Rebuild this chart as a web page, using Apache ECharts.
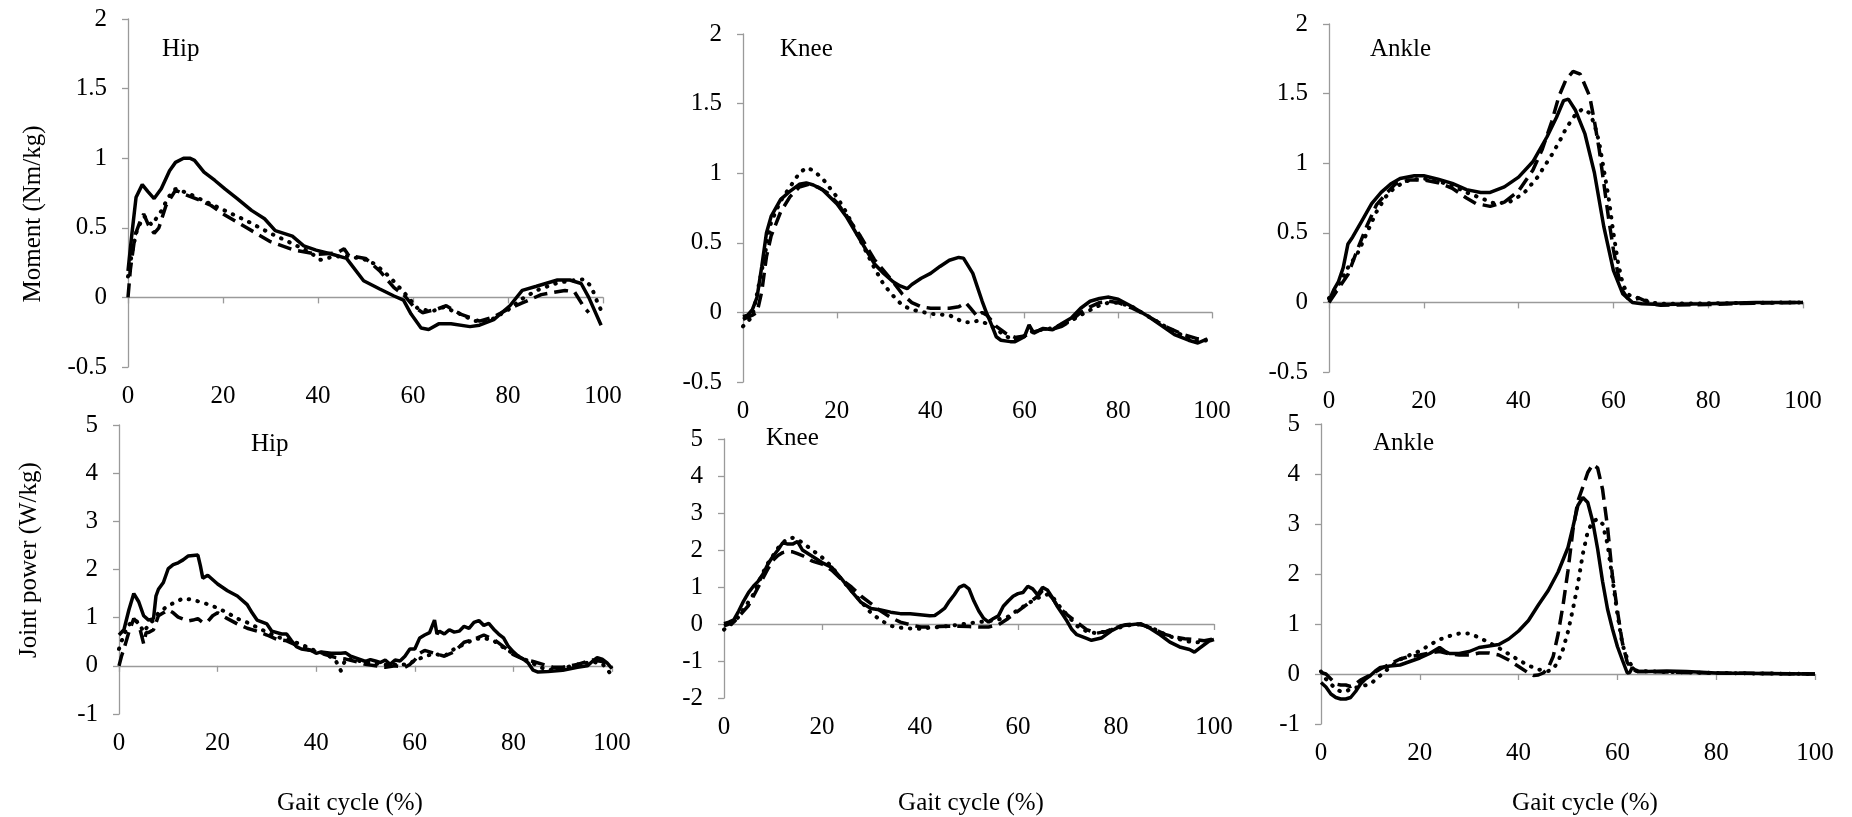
<!DOCTYPE html>
<html>
<head>
<meta charset="utf-8">
<script src="https://cdn.jsdelivr.net/npm/echarts@6/dist/echarts.min.js"></script>
<style>
  html, body { margin: 0; padding: 0; background: #fff; }
  #chart { width: 1852px; height: 817px; }
</style>
</head>
<body>
<div id="chart"></div>
<script>
// tick labels
const gaitTicks = [0, 20, 40, 60, 80, 100]
const momentTicks = [-0.5, 0, 0.5, 1, 1.5, 2]
const powerTicks = [-1, 0, 1, 2, 3, 4, 5]
const kneePowerTicks = [-2, -1, 0, 1, 2, 3, 4, 5]

// [gait cycle %, value] — solid / dashed / dotted curves
const hipMomSolid = [[0,0.19],[0.8,0.45],[1.7,0.72],[3,0.81],[4.2,0.76],[5.5,0.71],[7,0.78],[8.75,0.91],[10,0.97],[11.7,1.0],[13,1.0],[14,0.985],[16,0.9],[18.3,0.84],[20.4,0.78],[23,0.71],[26,0.625],[28.75,0.565],[31,0.48],[34.6,0.44],[37,0.37],[39.6,0.34],[43,0.31],[46,0.28],[49.6,0.12],[53,0.06],[56,0.01],[58,-0.02],[59.6,-0.12],[61.7,-0.22],[63.3,-0.23],[65.4,-0.19],[68,-0.19],[72,-0.21],[74,-0.2],[77,-0.16],[80.4,-0.06],[83,0.05],[86,0.08],[90.4,0.125],[93,0.125],[95.4,0.1],[97,0.0],[99.6,-0.2]]
const hipMomDash = [[0,0],[0.5,0.2],[1.5,0.45],[2.5,0.54],[3.3,0.6],[4.3,0.52],[5.5,0.46],[6.5,0.5],[8,0.66],[10,0.77],[12,0.74],[15,0.7],[17.5,0.66],[20,0.6],[25,0.5],[30,0.4],[35,0.34],[40,0.31],[44,0.32],[45.5,0.35],[46.5,0.3],[50,0.28],[53,0.19],[56,0.07],[58,0.02],[60,-0.06],[62,-0.11],[65,-0.085],[67,-0.06],[70,-0.12],[74,-0.17],[77,-0.14],[80,-0.085],[83,-0.04],[87,0.02],[92,0.05],[94,0.04],[96,-0.07],[97,-0.11]]
const hipMomDot = [[0,0.15],[1,0.35],[2,0.5],[3.5,0.58],[5,0.52],[7,0.62],[8.5,0.72],[10,0.78],[12.5,0.75],[15,0.71],[20,0.63],[25,0.55],[30,0.46],[35,0.38],[38,0.33],[40.5,0.27],[43,0.29],[46,0.3],[50,0.27],[52,0.24],[55,0.15],[58,0.04],[61,-0.08],[64,-0.1],[66.5,-0.07],[70,-0.12],[73,-0.17],[76,-0.17],[80,-0.09],[83,-0.01],[86,0.05],[90,0.1],[93,0.12],[96,0.13],[97.5,0.08],[99,-0.05],[100,-0.12]]

const kneeMomSolid = [[0,-0.03],[1,-0.02],[2,0.02],[3,0.11],[4,0.33],[5,0.57],[6,0.69],[8,0.81],[10,0.87],[12,0.92],[13.5,0.93],[15,0.915],[17,0.88],[20,0.78],[22,0.69],[25,0.52],[28,0.35],[30,0.28],[32,0.22],[33.5,0.19],[35,0.17],[36,0.2],[38,0.245],[40,0.28],[42,0.33],[44,0.375],[46,0.395],[47,0.39],[49,0.28],[50,0.18],[51,0.08],[52,-0.01],[53,-0.09],[54,-0.175],[55,-0.2],[57,-0.21],[58,-0.21],[60,-0.175],[61,-0.09],[62,-0.15],[64,-0.115],[66,-0.125],[68,-0.08],[70,-0.04],[72,0.03],[74,0.08],[76,0.1],[78,0.11],[80,0.095],[83,0.04],[86,-0.02],[89,-0.09],[92,-0.16],[95,-0.2],[97,-0.22],[99,-0.19]]
const kneeMomDash = [[0,-0.05],[2,-0.02],[3,0],[4,0.15],[5,0.4],[6,0.55],[8,0.72],[10,0.83],[12,0.9],[14,0.92],[16,0.9],[18,0.86],[20,0.79],[22,0.7],[25,0.55],[28,0.38],[30,0.3],[32,0.22],[34,0.13],[36,0.07],[38,0.04],[40,0.03],[44,0.03],[46,0.04],[47.5,0.07],[48.5,0.03],[50,-0.03],[51,0],[52,-0.02],[54,-0.1],[56,-0.15],[58,-0.18],[60,-0.17],[62,-0.14],[64,-0.12],[66,-0.12],[68,-0.1],[70,-0.06],[72,0],[74,0.04],[76,0.07],[78,0.08],[80,0.07],[83,0.03],[86,-0.02],[90,-0.1],[94,-0.16],[97,-0.19],[99,-0.2]]
const kneeMomDot = [[0,-0.1],[2,-0.03],[4,0.3],[6,0.65],[8,0.8],[10,0.9],[12,1.0],[13.5,1.04],[15,1.02],[17,0.96],[20,0.83],[22,0.72],[25,0.52],[28,0.32],[30,0.2],[32,0.12],[34,0.05],[36,0.02],[40,-0.01],[44,-0.02],[47,-0.07],[49,-0.07],[50,-0.06],[52,-0.08],[54,-0.12],[56,-0.17],[58,-0.2],[60,-0.17],[62,-0.13],[65,-0.12],[68,-0.09],[70,-0.06],[73,0],[76,0.05],[78,0.07],[80,0.07],[83,0.04],[86,-0.02],[90,-0.1],[94,-0.17],[97,-0.21],[99,-0.2]]

const ankleMomSolid = [[0,0.01],[1,0.09],[2,0.15],[3,0.25],[4,0.42],[5,0.47],[7,0.59],[9,0.71],[11,0.79],[13,0.85],[15,0.89],[18,0.91],[20,0.91],[23,0.885],[26,0.855],[29,0.81],[32,0.79],[34,0.79],[37,0.83],[40,0.9],[43,1.01],[46,1.19],[48,1.33],[49.5,1.45],[50.5,1.46],[52,1.38],[54,1.21],[56,0.93],[58,0.54],[60,0.23],[62,0.06],[64,0],[66,-0.01],[70,-0.015],[80,-0.01],[90,0],[100,0]]
const ankleMomDash = [[0,0],[2,0.1],[4,0.2],[6,0.38],[8,0.55],[10,0.7],[12,0.78],[14,0.85],[17,0.88],[20,0.88],[23,0.86],[26,0.82],[29,0.75],[31,0.71],[34,0.69],[37,0.72],[40,0.8],[43,0.95],[45,1.1],[47,1.3],[48.5,1.48],[50,1.6],[51.5,1.66],[53,1.64],[54,1.56],[55,1.48],[56,1.3],[57,1.1],[58,0.85],[59,0.6],[60,0.38],[61,0.2],[62,0.08],[63,0.03],[64,0.02],[65.5,0.03],[68,-0.01],[70,-0.02],[80,-0.015],[90,-0.005],[100,0]]
const ankleMomDot = [[0,0.03],[2,0.12],[4,0.25],[6,0.35],[8,0.5],[10,0.65],[12,0.76],[14,0.83],[17,0.88],[20,0.89],[23,0.87],[26,0.84],[29,0.79],[32,0.75],[35,0.71],[38,0.72],[41,0.78],[44,0.9],[47,1.06],[49,1.18],[50,1.25],[52,1.35],[53.5,1.39],[55,1.36],[56,1.28],[57,1.15],[58,0.95],[59,0.75],[60,0.5],[61,0.28],[62,0.13],[63,0.06],[64,0.04],[65.5,0.03],[68,0],[70,-0.01],[100,0]]

const hipPowSolid = [[0,0.64],[1,0.75],[2,1.16],[3,1.5],[4,1.33],[5,1.04],[6,0.95],[7,0.98],[7.5,1.45],[8,1.59],[9,1.73],[10,2.02],[11,2.1],[12,2.14],[13,2.2],[14,2.28],[16,2.3],[16.5,2.08],[17,1.82],[18,1.88],[20,1.7],[22,1.56],[24,1.45],[26,1.27],[27,1.1],[28,0.95],[30,0.87],[31,0.72],[33,0.66],[34,0.66],[35,0.52],[36,0.4],[37,0.35],[39,0.32],[40,0.26],[41,0.29],[43,0.26],[45,0.26],[46,0.27],[47,0.2],[49,0.13],[50,0.09],[51,0.13],[52,0.1],[53,0.07],[54,0.12],[55,0.03],[56,0.12],[57,0.1],[58,0.2],[59,0.35],[60,0.35],[61,0.58],[62,0.64],[63,0.69],[64,0.95],[64.5,0.66],[65,0.72],[66,0.66],[67,0.75],[68,0.7],[69,0.72],[70,0.82],[71,0.78],[72,0.9],[73,0.94],[74,0.84],[75,0.88],[76,0.76],[77,0.66],[78,0.58],[79,0.4],[80,0.29],[81,0.2],[82,0.14],[83,0.06],[84,-0.09],[85,-0.13],[87,-0.12],[90,-0.09],[93,-0.03],[95,0],[96,0.09],[97,0.17],[98,0.14],[99,0.06],[100,-0.06]]
const hipPowDash = [[0,0],[0.5,0.2],[1,0.35],[2,0.7],[3,0.98],[4,0.87],[5,0.46],[5.5,0.69],[6,0.69],[7,0.75],[8,1.04],[9,1.1],[10,1.16],[11,1.1],[12,1.01],[14,0.93],[15,0.95],[16,0.98],[17,0.9],[18,0.92],[19,1.04],[20,1.1],[22,0.98],[24,0.87],[26,0.78],[28,0.72],[30,0.64],[32,0.55],[34,0.52],[36,0.43],[38,0.35],[40,0.29],[42,0.23],[44,0.17],[46,0.14],[48,0.09],[50,0.03],[52,0],[54,-0.03],[56,0],[58,-0.03],[59,0.03],[60,0.12],[61,0.26],[62,0.32],[64,0.26],[66,0.2],[68,0.29],[70,0.49],[72,0.55],[74,0.64],[76,0.55],[78,0.4],[80,0.23],[82,0.14],[84,0.09],[86,0.03],[88,-0.03],[90,-0.03],[93,0.03],[96,0.12],[98,0.09],[100,-0.03]]
const hipPowDot = [[0,0.35],[1,0.65],[2,0.85],[3,0.95],[4,0.9],[5,0.7],[6,0.85],[7,0.95],[8,1.1],[10,1.25],[12,1.35],[13,1.4],[15,1.37],[18,1.28],[20,1.2],[22,1.1],[24,0.98],[26,0.9],[28,0.8],[30,0.7],[32,0.6],[34,0.55],[36,0.48],[38,0.4],[40,0.3],[42,0.25],[44,0.1],[45,-0.1],[46,0.15],[48,0.12],[50,0.07],[52,0.05],[54,0.02],[56,0.03],[58,0.03],[60,0.1],[62,0.2],[64,0.25],[66,0.2],[68,0.35],[70,0.45],[72,0.55],[74,0.58],[76,0.52],[78,0.38],[80,0.25],[82,0.15],[84,0.05],[86,-0.05],[88,-0.08],[90,-0.05],[93,0.03],[96,0.08],[98,0.05],[100,-0.2]]

const kneePowSolid = [[0,0.01],[1,0.05],[2,0.11],[3,0.35],[4,0.62],[5,0.85],[6,1.02],[7,1.16],[8,1.36],[9,1.63],[10,1.83],[11,2.0],[12,2.2],[13,2.16],[14,2.16],[15,2.23],[16,2.0],[18,1.83],[20,1.66],[22,1.53],[24,1.22],[26,0.89],[28,0.58],[30,0.42],[32,0.38],[34,0.32],[36,0.28],[38,0.28],[40,0.25],[42,0.22],[43,0.23],[44,0.32],[45,0.42],[46,0.62],[47,0.79],[48,0.99],[49,1.05],[50,0.95],[51,0.62],[52,0.35],[53,0.15],[54,0.05],[55,0.15],[56,0.22],[57,0.48],[58,0.62],[59,0.75],[60,0.82],[61,0.85],[62,1.02],[63,0.95],[64,0.79],[65,0.99],[66,0.92],[67,0.72],[68,0.48],[69,0.28],[70,0.08],[71,-0.15],[72,-0.29],[74,-0.39],[75,-0.44],[77,-0.38],[79,-0.19],[81,-0.05],[83,-0.02],[85,0.01],[87,-0.12],[89,-0.29],[91,-0.49],[93,-0.62],[95,-0.69],[96,-0.76],[97,-0.66],[99,-0.46],[100,-0.42]]
const kneePowDash = [[0,-0.05],[1,0],[2,0.05],[3,0.2],[4,0.35],[5,0.5],[6,0.75],[7,1.0],[8,1.25],[9,1.5],[10,1.72],[11,1.85],[12,1.93],[13,1.96],[14,1.95],[15,1.9],[16,1.85],[17,1.78],[18,1.7],[20,1.62],[22,1.45],[24,1.2],[26,1.0],[28,0.75],[30,0.55],[32,0.35],[34,0.18],[36,0.05],[38,-0.02],[40,-0.08],[42,-0.08],[44,-0.07],[46,-0.06],[48,-0.06],[50,-0.07],[52,-0.08],[54,-0.08],[56,-0.02],[58,0.15],[60,0.35],[62,0.55],[64,0.75],[65,0.9],[66,0.85],[67,0.7],[68,0.5],[70,0.25],[72,0.05],[74,-0.15],[76,-0.25],[78,-0.2],[80,-0.1],[82,-0.02],[84,0],[86,-0.05],[88,-0.15],[90,-0.28],[92,-0.35],[94,-0.4],[96,-0.42],[98,-0.45],[100,-0.4]]
const kneePowDot = [[0,-0.15],[1,-0.05],[2,0.05],[3,0.2],[4,0.4],[5,0.6],[6,0.8],[7,1.1],[8,1.4],[9,1.65],[10,1.85],[11,2.05],[12,2.2],[13,2.3],[14,2.33],[15,2.28],[16,2.2],[18,2.0],[20,1.8],[22,1.55],[24,1.2],[26,0.9],[28,0.6],[30,0.3],[32,0.1],[34,-0.05],[36,-0.1],[38,-0.12],[40,-0.13],[42,-0.1],[44,-0.08],[46,-0.05],[48,-0.02],[50,0.02],[52,0.05],[54,0.08],[56,0.12],[58,0.2],[60,0.38],[62,0.55],[64,0.7],[66,0.8],[67,0.75],[68,0.55],[70,0.25],[72,-0.05],[74,-0.2],[76,-0.25],[78,-0.2],[80,-0.12],[82,-0.05],[84,0],[86,-0.05],[88,-0.15],[90,-0.28],[92,-0.38],[94,-0.45],[96,-0.5],[98,-0.48],[100,-0.45]]

const anklePowSolid = [[0,-0.17],[1,-0.26],[2,-0.4],[3,-0.47],[4,-0.5],[5,-0.5],[6,-0.47],[7,-0.35],[8,-0.2],[9,-0.1],[10,-0.03],[11,0.06],[12,0.13],[14,0.16],[16,0.18],[18,0.25],[20,0.32],[22,0.41],[24,0.53],[25,0.46],[26,0.41],[28,0.41],[30,0.45],[32,0.53],[34,0.56],[36,0.59],[38,0.7],[40,0.86],[42,1.07],[44,1.38],[46,1.67],[48,2.04],[50,2.53],[51,2.94],[52,3.37],[53,3.53],[54,3.43],[55,3.05],[56,2.5],[57,1.85],[58,1.3],[59,0.9],[60,0.55],[61,0.28],[62,0.02],[62.5,0.03],[63,0.13],[64,0.05],[66,0.05],[70,0.06],[74,0.05],[80,0.02],[90,0.01],[100,0]]
const anklePowDash = [[0,0.03],[1,0],[2,-0.1],[3,-0.2],[4,-0.22],[5,-0.22],[6,-0.25],[7,-0.2],[8,-0.12],[10,-0.02],[12,0.1],[14,0.2],[16,0.3],[18,0.35],[20,0.38],[22,0.42],[24,0.45],[26,0.4],[28,0.38],[30,0.38],[32,0.42],[34,0.42],[36,0.38],[38,0.28],[40,0.15],[42,0.02],[43,-0.03],[44,-0.02],[45,0.02],[46,0.12],[47,0.35],[48,0.8],[49,1.38],[50,2.07],[51,2.88],[52,3.46],[53,3.74],[54,4.03],[55,4.19],[56,4.12],[57,3.69],[58,2.94],[59,1.96],[60,1.27],[61,0.63],[62,0.23],[63,0.09],[64,0.05],[66,0.05],[70,0.04],[80,0.02],[100,0]]
const anklePowDot = [[0,0.05],[1,-0.1],[2,-0.2],[3,-0.3],[4,-0.35],[5,-0.35],[6,-0.3],[8,-0.25],[10,-0.2],[12,-0.03],[14,0.14],[16,0.29],[18,0.38],[20,0.46],[22,0.58],[24,0.69],[26,0.76],[28,0.81],[30,0.81],[32,0.73],[34,0.63],[36,0.52],[38,0.4],[40,0.28],[42,0.17],[44,0.09],[46,0.06],[47,0.1],[48,0.25],[49,0.5],[50,0.85],[51,1.3],[52,1.8],[53,2.4],[54,2.85],[55,3.05],[56,3.1],[57,3.0],[58,2.6],[59,1.9],[60,1.2],[61,0.6],[62,0.3],[63,0.15],[64,0.06],[70,0.04],[80,0.02],[100,0]]

const FONT = 'Liberation Serif'
const AXIS_GREY = '#9a9a9a'

// solid, dashed, dotted
const lineKinds = [
  { type: 'solid', width: 3.5 },
  { type: [14, 7], width: 3.5 },
  { type: [0.5, 8.5], width: 4, cap: 'round' }
]

const panels = [
  { grid: { left: 128, top: 19, width: 475, height: 348 }, ticks: momentTicks, lines: [hipMomSolid, hipMomDash, hipMomDot], label: 'Hip', at: [162, 49], yName: 'Moment (Nm/kg)', yGap: 82, yPad: [0, 42, 0, 0] },
  { grid: { left: 743, top: 34, width: 469, height: 348 }, ticks: momentTicks, lines: [kneeMomSolid, kneeMomDash, kneeMomDot], label: 'Knee', at: [780, 49] },
  { grid: { left: 1329, top: 24, width: 474, height: 348 }, ticks: momentTicks, lines: [ankleMomSolid, ankleMomDash, ankleMomDot], label: 'Ankle', at: [1370, 49] },
  { grid: { left: 119, top: 425, width: 493, height: 347 }, ticks: powerTicks, lines: [hipPowSolid, hipPowDash, hipPowDot], label: 'Hip', at: [251, 444], yName: 'Joint power (W/kg)', yGap: 77, yPad: [0, 0, 0, 19], xGap: 77, xPad: [0, 31, 0, 0] },
  { grid: { left: 724, top: 439, width: 490, height: 347 }, ticks: kneePowerTicks, lines: [kneePowSolid, kneePowDash, kneePowDot], label: 'Knee', at: [766, 438], xGap: 93, xPad: [0, 0, 0, 4] },
  { grid: { left: 1321, top: 424, width: 494, height: 347 }, ticks: powerTicks, lines: [anklePowSolid, anklePowDash, anklePowDot], label: 'Ankle', at: [1373, 443], xGap: 67, xPad: [0, 0, 0, 34] }
]

const txt = { color: '#000', fontFamily: FONT, fontSize: 25 }

const grid = []
const xAxis = []
const yAxis = []
const series = []
const graphic = []

panels.forEach((p, i) => {
  grid.push(Object.assign({ containLabel: false }, p.grid))
  xAxis.push({
    gridIndex: i,
    type: 'value',
    min: gaitTicks[0],
    max: gaitTicks[gaitTicks.length - 1],
    interval: gaitTicks[1] - gaitTicks[0],
    name: p.xGap ? 'Gait cycle (%)' : '',
    nameLocation: 'middle',
    nameGap: p.xGap || 0,
    nameTextStyle: Object.assign({ padding: p.xPad || 0 }, txt),
    axisLine: { onZero: true, lineStyle: { color: AXIS_GREY, width: 1.3 } },
    axisTick: { show: true, length: 6, lineStyle: { color: AXIS_GREY, width: 1.3 } },
    axisLabel: Object.assign({ margin: 17 }, txt),
    splitLine: { show: false }
  })
  yAxis.push({
    gridIndex: i,
    type: 'value',
    min: p.ticks[0],
    max: p.ticks[p.ticks.length - 1],
    interval: p.ticks[1] - p.ticks[0],
    name: p.yName || '',
    nameLocation: 'middle',
    nameGap: p.yGap || 0,
    nameTextStyle: Object.assign({ padding: p.yPad || 0 }, txt),
    axisLine: { show: true, onZero: false, lineStyle: { color: AXIS_GREY, width: 1.3 } },
    axisTick: { show: true, length: 6, lineStyle: { color: AXIS_GREY, width: 1.3 } },
    axisLabel: Object.assign({ margin: 21 }, txt),
    splitLine: { show: false }
  })
  p.lines.forEach((data, k) => {
    series.push({
      type: 'line',
      xAxisIndex: i,
      yAxisIndex: i,
      data: data,
      symbol: 'none',
      silent: true,
      z: 3 - k,
      lineStyle: Object.assign({ color: '#000' }, lineKinds[k])
    })
  })
  graphic.push({
    type: 'text',
    x: p.at[0],
    y: p.at[1],
    style: { text: p.label, fill: '#000', font: '25px "' + FONT + '"', verticalAlign: 'middle' }
  })
})

const myChart = echarts.init(document.getElementById('chart'), null, { renderer: 'canvas' })
myChart.setOption({
  backgroundColor: '#fff',
  animation: false,
  grid,
  xAxis,
  yAxis,
  series,
  graphic
})
</script>
</body>
</html>
